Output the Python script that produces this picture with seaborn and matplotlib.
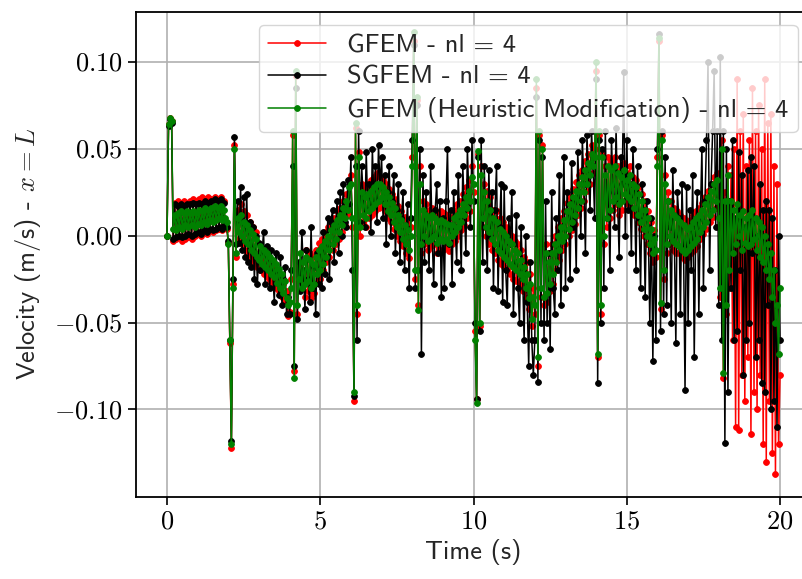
import numpy as np
import matplotlib
matplotlib.use("Agg")
import matplotlib.pyplot as plt
import seaborn as sns
from matplotlib.ticker import FuncFormatter, FixedLocator

# ---------------- data (velocity in 1e-3 m/s, sampled every 0.05 s) ----------------
time_s = np.linspace(0.0, 20.0, 401)

gfem_mms = [
    0, 64, 68, 66, -3, 19, -2, 20, -1, 19, -3, 20, -2, 19, -1, 20, -2, 21, 0, 20,
    1, 21, 0, 22, 2, 21, 1, 22, 3, 21, 2, 22, 3, 21, 4, 22, 3, 20, 5, 4,
    -4, -62, -122, -28, 52, -12, 15, -2, 18, -5, 14, -8, 12, -10, 8, -13, 5, -15, 2, -18,
    -10, -20, -12, -22, -14, -24, -16, -26, -18, -28, -20, -30, -22, -32, -25, -35, -28, -38, -32, -46,
    -44, -25, 58, -78, 92, -45, -20, -18, -25, -20, -35, -8, -32, -10, -36, -12, -33, -8, -27, -4,
    -25, -2, -20, 2, -15, 5, -12, 8, -8, 10, -5, 14, -2, 16, 2, 20, 6, 24, 12, 32,
    35, 5, -95, 62, -45, 48, 0, 30, 8, 28, 5, 30, 10, 32, 12, 34, 14, 36, 16, 34,
    18, 32, 14, 30, 10, 27, 8, 24, 4, 21, 0, 17, -3, 14, -6, 11, -10, 8, -13, 5,
    45, 112, -25, 78, -40, 40, -10, 20, -5, 18, -8, 15, -6, 16, -5, 15, -10, 12, -8, 14,
    -8, 13, -6, 12, -9, 11, -5, 15, -3, 18, 0, 20, 3, 24, 6, 28, 10, 32, 14, 40,
    25, -55, -94, 47, -52, 40, 5, 30, 0, 26, -5, 22, -8, 15, -10, 14, -14, 10, -16, 8,
    -18, 5, -20, 2, -22, 0, -25, -3, -26, -5, -28, -8, -32, -12, -36, -15, -42, -22, -52, -30,
    -45, 85, -75, 58, -35, 52, -40, -5, -38, -10, -32, -5, -28, 0, -20, 5, -14, 10, -8, 14,
    -5, 19, 0, 22, 3, 27, 7, 31, 12, 35, 16, 38, 20, 43, 26, 47, 30, 52, 36, 50,
    95, -70, 58, -45, 48, -5, 40, 5, 45, 10, 43, 15, 45, 18, 40, 12, 38, 15, 42, 20,
    36, 18, 40, 15, 34, 12, 32, 8, 28, 4, 24, 0, 20, -5, 14, -10, 8, -15, 3, -12,
    45, 112, -42, 58, -25, 35, -10, 25, -5, 20, -8, 16, -10, 14, -10, 12, -12, 10, -14, 8,
    -12, 9, -10, 12, -8, 14, -6, 16, -2, 19, 1, 22, 4, 26, 8, 30, 11, 34, 16, 36,
    5, -35, 55, -82, 25, -45, 40, -30, 35, -60, 50, -110, 90, -112, 60, -80, 70, -95, 40, -70,
    55, -114, 85, -90, 60, -100, 75, -80, 50, -120, 90, -130, 65, -95, 70, -125, 40, -137, 30, -120,
    -80,
]

sgfem_mms = [
    0, 63, 67, 65, -2, 18, -1, 17, 0, 18, -1, 17, 0, 18, 1, 18, 0, 19, 1, 18,
    2, 19, 1, 18, 3, 20, 2, 19, 4, 20, 3, 21, 4, 20, 5, 21, 4, 19, 6, 5,
    -3, -60, -118, -25, 57, -5, 20, -4, 28, -8, 22, -12, 24, -15, 8, -18, 5, -25, 0, -28,
    -4, -20, -10, 2, -28, -6, -12, -30, -8, -22, -38, -10, -20, -34, -12, -40, -25, -18, -45, -35,
    -45, -20, 40, -75, 85, -48, -15, -32, 2, -20, -42, -8, -25, -38, 5, -30, -18, -45, -10, -28,
    -8, -30, 2, -22, -5, 10, -25, 8, 15, -15, 5, 20, -10, 25, 0, 30, 8, 5, 32, 18,
    45, -20, -92, 40, -60, 60, 8, 40, 22, 5, 48, 15, 30, 2, 50, 18, 40, 8, 52, 28,
    45, 10, 35, -5, 25, 40, 0, 20, 35, -10, 15, 30, -15, 10, 25, -20, 5, 18, -30, 10,
    55, 110, -30, 75, -20, 50, -68, 35, -15, 25, 5, -20, 40, 0, -28, 15, 30, -10, 20, -35,
    10, -30, 20, 50, -5, 15, -28, 25, 5, -15, 35, 10, -20, 40, 15, -10, 50, 20, 5, 55,
    20, -50, -94, 45, -55, 55, -15, 40, 5, -20, 38, 0, 25, -30, 15, 40, -32, 5, 30, -38,
    28, -20, -40, 10, -5, 25, -45, -15, 12, -30, -50, 5, -20, -60, 0, -38, -75, -15, -60, -80,
    -60, 80, -84, 55, -50, 45, -60, 20, -50, -10, -65, 25, -30, -45, 10, -20, 35, -40, 5, 45,
    -30, 25, 10, -25, 42, 5, 20, -20, 48, 25, 0, 55, 30, -10, 58, 35, 15, 60, 40, 10,
    90, -85, 55, -50, 50, -30, 60, 10, 25, -20, 55, 30, 5, 62, 20, -12, 45, 30, 94, 0,
    55, 15, 30, -10, 50, 25, -20, 40, 10, -30, 30, 15, -35, 20, 5, -50, 10, -72, 0, -60,
    50, 116, -55, 60, -45, 45, -40, 20, 5, -50, 38, 0, -62, 25, 10, -45, 30, -5, -89, 28,
    -50, 15, -20, 35, -70, 5, 25, -45, 10, 50, -30, 20, 55, 100, -20, 30, 60, 95, 5, 60,
    -40, 103, -60, 60, -119, 50, -90, 20, -30, 55, -60, 10, -55, 48, -20, 35, -80, 5, -60, 38,
    -50, 45, -10, 40, -70, 0, -60, 30, -85, 15, -90, 20, -40, 15, -100, 10, -95, -20, -110, 0,
    -60,
]

heuristic_mms = [
    0, 64, 68, 66, 4, 12, 3, 13, 5, 14, 4, 13, 6, 14, 5, 13, 6, 14, 5, 13,
    7, 15, 6, 14, 8, 16, 7, 15, 9, 16, 8, 17, 9, 16, 10, 17, 9, 15, 10, 8,
    -5, -60, -120, -30, 50, -10, 10, 2, 12, 0, 8, -3, 6, -5, 3, -8, 1, -10, -2, -12,
    -14, -6, -16, -8, -18, -10, -20, -12, -22, -14, -24, -16, -27, -19, -30, -22, -33, -26, -36, -40,
    -38, -30, 60, -82, 95, -40, -25, -10, -30, -15, -28, -12, -26, -14, -30, -16, -28, -12, -22, -8,
    -20, -6, -16, -3, -12, 0, -8, 3, -5, 6, -2, 9, 2, 12, 6, 16, 10, 20, 15, 28,
    30, 10, -90, 65, -40, 45, 5, 25, 12, 22, 10, 24, 14, 26, 16, 28, 18, 30, 20, 30,
    22, 28, 18, 25, 14, 22, 12, 19, 8, 16, 5, 12, 2, 9, -2, 6, -5, 3, -8, 0,
    40, 117, -20, 80, -43, 30, -5, 15, 0, 12, -3, 10, -2, 12, 0, 10, -4, 8, -2, 9,
    -3, 8, -2, 7, -4, 6, 0, 10, 2, 12, 5, 15, 8, 18, 12, 22, 16, 26, 20, 34,
    30, -60, -96, 49, -50, 35, 10, 25, 5, 20, 2, 15, -2, 10, -5, 8, -8, 4, -10, 2,
    -12, 0, -14, -3, -16, -5, -18, -8, -20, -10, -22, -14, -25, -18, -30, -22, -36, -28, -48, -35,
    -40, 90, -70, 60, -30, 50, -35, -10, -33, -15, -28, -10, -22, -5, -15, 0, -8, 5, -3, 9,
    0, 14, 4, 18, 8, 22, 12, 26, 16, 30, 20, 34, 25, 38, 30, 42, 35, 47, 40, 45,
    100, -68, 60, -40, 45, 0, 35, 10, 40, 15, 38, 20, 40, 22, 36, 18, 34, 20, 38, 24,
    32, 22, 35, 20, 30, 16, 28, 12, 24, 8, 20, 4, 15, 0, 10, -5, 4, -10, -2, -8,
    40, 114, -39, 55, -20, 30, -5, 20, 0, 15, -3, 12, -5, 10, -6, 8, -8, 6, -10, 4,
    -8, 5, -6, 8, -4, 10, -2, 12, 2, 15, 5, 18, 8, 22, 12, 26, 15, 30, 20, 32,
    10, -30, 50, -79, 20, -40, 35, -20, 20, -10, 15, -5, 18, 0, 12, -8, 14, -4, 10, -6,
    12, -5, 15, -2, 10, -8, 8, -12, 5, -15, 0, -20, -5, -25, -10, -35, -20, -50, -40, -68,
    -30,
]

series_labels = [
    "GFEM - nl = 4",
    "SGFEM - nl = 4",
    "GFEM (Heuristic Modification) - nl = 4",
]
series_colors = ["#ff0000", "#000000", "#008000"]
x_ticks = [0, 5, 10, 15, 20]
y_ticks = [-0.10, -0.05, 0.00, 0.05, 0.10]

# ---------------- style ----------------
sns.set_theme(style="ticks")
plt.rcParams["font.family"] = ["cmss10", "DejaVu Sans"]
plt.rcParams["mathtext.fontset"] = "cm"
plt.rcParams["axes.unicode_minus"] = False

FS = 19

fig = plt.figure(figsize=(8.03, 5.79), dpi=100)
fig.patch.set_facecolor("white")
ax = fig.add_axes([0.1698, 0.1421, 0.8398, 0.8377])
ax.set_facecolor("white")

for vals, lab, col in zip([gfem_mms, sgfem_mms, heuristic_mms], series_labels, series_colors):
    sns.lineplot(
        x=time_s, y=np.asarray(vals, dtype=float) / 1000.0, ax=ax,
        color=col, label=lab, marker="o", markersize=4.2,
        markeredgewidth=0.6, markeredgecolor=col, linewidth=1.1,
        sort=False, estimator=None, legend=False,
    )

ax.set_xlim(-1.0, 21.0)
ax.set_ylim(-0.1502, 0.1289)
ax.xaxis.set_major_locator(FixedLocator(x_ticks))
ax.yaxis.set_major_locator(FixedLocator(y_ticks))
ax.xaxis.set_major_formatter(FuncFormatter(lambda v, p: f"${v:.0f}$"))
ax.yaxis.set_major_formatter(FuncFormatter(lambda v, p: f"${v:.2f}$"))

ax.grid(True, color="#b0b0b0", linewidth=1.2)
ax.set_axisbelow(True)
for s in ax.spines.values():
    s.set_visible(True)
    s.set_color("black")
    s.set_linewidth(1.3)
ax.tick_params(direction="out", length=6, width=1.2, colors="black",
               labelsize=FS, pad=4)

ax.set_xlabel("Time (s)", fontsize=FS, labelpad=4)
ax.set_ylabel("Velocity (m/s) - $x = L$", fontsize=FS, labelpad=8)

ax.legend(loc="upper right", fontsize=FS, framealpha=0.8,
          handlelength=2.2, labelspacing=0.3, borderpad=0.35)

fig.savefig("out.png", dpi=100)
